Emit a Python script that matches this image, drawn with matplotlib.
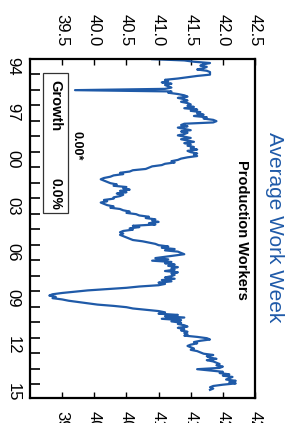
import matplotlib
matplotlib.use("Agg")
import matplotlib.pyplot as plt
from matplotlib.patches import Rectangle

plt.rcParams['font.family'] = ['Liberation Sans', 'DejaVu Sans']

# monthly average weekly hours, production workers
years = list(range(1994, 2016))
hours = {
    1994: [40.9, 41.4, 41.55, 41.8, 41.7, 41.65, 41.75, 41.7, 41.6, 41.75, 41.8, 41.8],
    1995: [41.8, 41.6, 41.45, 41.3, 41.1, 41.15, 41.05, 41.2, 41.1, 41.15, 41.2, 41.1],
    1996: [39.7, 41.2, 41.15, 41.3, 41.4, 41.45, 41.3, 41.4, 41.45, 41.35, 41.45, 41.5],
    1997: [41.45, 41.55, 41.4, 41.6, 41.5, 41.65, 41.6, 41.7, 41.55, 41.75, 41.7, 41.85],
    1998: [41.9, 41.85, 41.4, 41.35, 41.45, 41.3, 41.4, 41.5, 41.35, 41.45, 41.4, 41.3],
    1999: [41.4, 41.5, 41.35, 41.45, 41.55, 41.4, 41.5, 41.45, 41.55, 41.5, 41.6, 41.45],
    2000: [41.5, 41.6, 41.55, 41.6, 41.45, 41.35, 41.3, 41.2, 41.25, 41.1, 41.05, 40.9],
    2001: [40.85, 40.8, 40.6, 40.55, 40.4, 40.45, 40.3, 40.25, 40.15, 40.1, 40.15, 40.2],
    2002: [40.25, 40.35, 40.3, 40.5, 40.45, 40.55, 40.4, 40.5, 40.35, 40.45, 40.4, 40.3],
    2003: [40.3, 40.15, 40.2, 40.1, 40.15, 40.2, 40.3, 40.25, 40.4, 40.45, 40.55, 40.5],
    2004: [40.65, 40.7, 40.85, 40.8, 40.95, 40.9, 41.0, 40.85, 40.95, 40.6, 40.7, 40.55],
    2005: [40.6, 40.45, 40.4, 40.45, 40.4, 40.45, 40.5, 40.55, 40.6, 40.75, 40.85, 40.95],
    2006: [41.0, 41.15, 41.05, 41.25, 41.1, 41.3, 41.35, 41.4, 41.25, 41.1, 40.95, 41.15],
    2007: [40.9, 41.2, 41.1, 41.25, 41.15, 41.3, 41.2, 41.25, 41.1, 41.3, 41.2, 41.25],
    2008: [41.2, 41.1, 41.25, 41.05, 41.2, 41.0, 41.1, 41.0, 40.7, 40.5, 40.2, 39.9],
    2009: [39.7, 39.5, 39.35, 39.3, 39.4, 39.35, 39.5, 39.6, 39.75, 39.9, 40.05, 40.3],
    2010: [40.5, 40.6, 40.8, 41.0, 41.1, 41.0, 41.3, 41.1, 41.4, 41.05, 41.35, 41.2],
    2011: [41.35, 41.3, 41.4, 41.45, 41.3, 41.4, 41.35, 41.45, 41.4, 41.45, 41.4, 41.6],
    2012: [41.75, 41.8, 41.65, 41.55, 41.6, 41.5, 41.45, 41.5, 41.55, 41.5, 41.6, 41.65],
    2013: [41.7, 41.85, 41.75, 41.8, 41.9, 41.75, 41.85, 41.9, 41.95, 41.9, 42.0, 41.95],
    2014: [41.6, 41.8, 42.0, 41.95, 42.1, 42.0, 42.15, 42.1, 42.05, 42.2, 42.1, 42.2],
    2015: [42.0, 41.85, 41.8, 41.85, 41.8],
}
value_ticks = [39.5, 40.0, 40.5, 41.0, 41.5, 42.0, 42.5]
year_labels = ['94', '97', '00', '03', '06', '09', '12', '15']
label_years = [1994, 1997, 2000, 2003, 2006, 2009, 2012, 2015]

dates, vals = [], []
for y in years:
    for m, v in enumerate(hours[y]):
        dates.append(y + (m + 0.5) / 12)
        vals.append(v)

blue = '#1f5aa8'

fig = plt.figure(figsize=(2.96, 4.23), dpi=100)
ax = fig.add_axes([0.1014, 0.0591, 0.7601, 0.8026])

# chart is drawn turned a quarter turn: time runs down, hours run right
ax.plot(vals, dates, color=blue, lw=1.6)
ax.set_xlim(39.0, 42.5)
ax.set_ylim(2015.9, 1994.0)

ax.set_xticks(value_ticks)
ax.set_xticklabels(['%.1f' % v for v in value_ticks])
ax.tick_params(axis='x', top=True, bottom=True, labeltop=True, labelbottom=True,
               direction='in', length=4, width=1, labelsize=12, pad=9,
               labelrotation=-90)

ax.set_yticks(range(1995, 2016))
ax.set_yticklabels([])
ax.set_yticks([y + 0.5 for y in label_years], minor=True)
ax.set_yticklabels(year_labels, minor=True)
ax.tick_params(axis='y', which='major', direction='in', length=7.5, width=1.2)
ax.tick_params(axis='y', which='minor', length=0, labelsize=12, pad=7,
               labelrotation=-90)
for lab in ax.get_yticklabels(minor=True):
    lab.set_va('center')

for s in ax.spines.values():
    s.set_linewidth(1.6)

fig.text(0.929, 0.462, 'Average Work Week', color=blue, fontsize=15,
         rotation=-90, ha='center', va='center')
fig.text(0.818, 0.456, 'Production Workers', fontsize=10.5, fontweight='bold',
         rotation=-90, ha='center', va='center')

fig.patches.append(Rectangle((43 / 296, 1 - 213 / 423), 25 / 296, 140 / 423,
                             transform=fig.transFigure, fill=False,
                             edgecolor='#333333', lw=0.9))
fig.text(55 / 296, 1 - 106 / 423, 'Growth', fontsize=10.5, fontweight='bold',
         rotation=-90, ha='center', va='center')
fig.text(55 / 296, 1 - 194 / 423, '0.0%', fontsize=10, fontweight='bold',
         rotation=-90, ha='center', va='center')
fig.text(77 / 296, 1 - 146 / 423, '0.00*', fontsize=9, fontweight='bold',
         rotation=-90, ha='center', va='center')

fig.savefig('out.png', dpi=100)
